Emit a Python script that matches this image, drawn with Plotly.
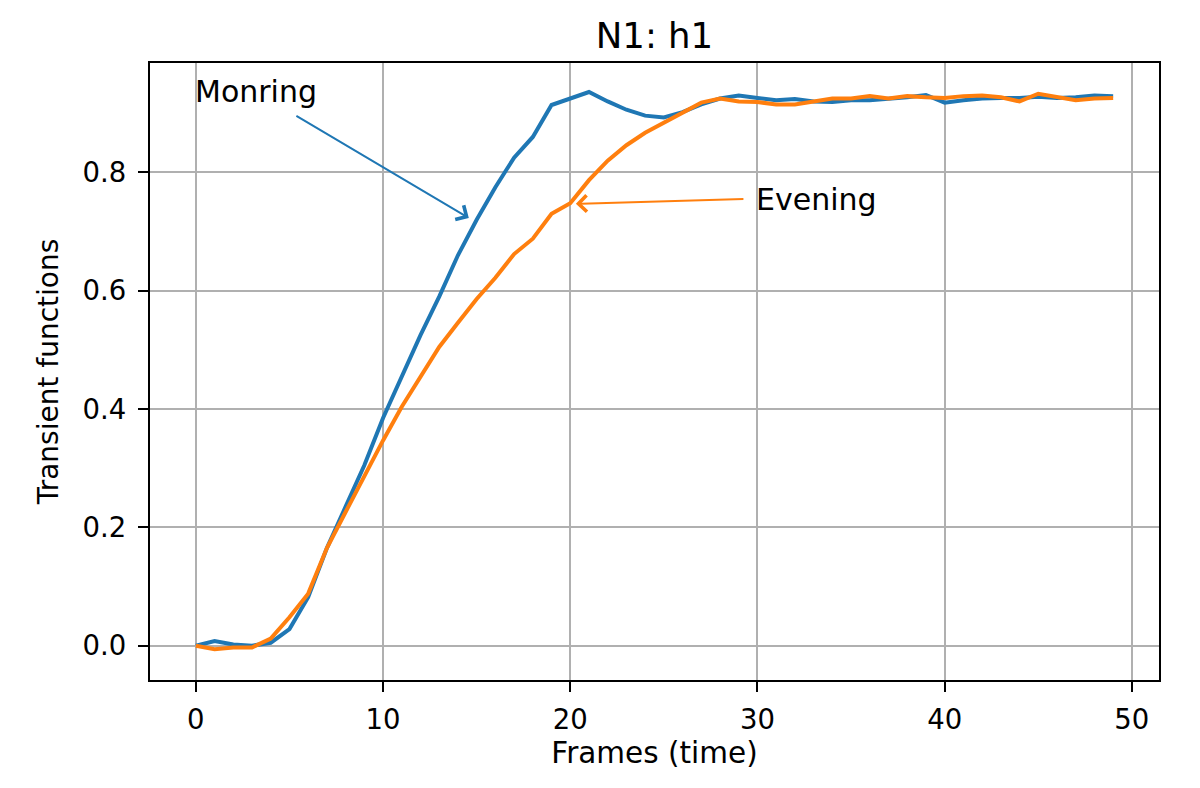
import plotly.graph_objects as go

frames = list(range(50))

morning = [0.000, 0.008, 0.002, 0.000, 0.005, 0.028, 0.082, 0.165, 0.235, 0.305,
           0.385, 0.455, 0.525, 0.590, 0.660, 0.720, 0.775, 0.825, 0.860, 0.914,
           0.925, 0.936, 0.920, 0.906, 0.896, 0.893, 0.902, 0.915, 0.925, 0.930,
           0.926, 0.922, 0.924, 0.920, 0.919, 0.922, 0.922, 0.924, 0.927, 0.931,
           0.918, 0.922, 0.925, 0.926, 0.926, 0.928, 0.926, 0.927, 0.930, 0.929]

evening = [0.000, -0.006, -0.003, -0.003, 0.012, 0.048, 0.088, 0.165, 0.226, 0.287,
           0.347, 0.404, 0.455, 0.505, 0.546, 0.586, 0.622, 0.662, 0.688, 0.730,
           0.748, 0.787, 0.820, 0.846, 0.867, 0.884, 0.900, 0.918, 0.925, 0.920,
           0.919, 0.915, 0.915, 0.920, 0.925, 0.925, 0.929, 0.925, 0.929, 0.927,
           0.926, 0.929, 0.930, 0.927, 0.920, 0.933, 0.927, 0.922, 0.925, 0.926]

x_ticks = [0, 10, 20, 30, 40, 50]
y_ticks = [0.0, 0.2, 0.4, 0.6, 0.8]
y_tick_text = ["0.0", "0.2", "0.4", "0.6", "0.8"]

BLUE = "#1f77b4"
ORANGE = "#ff7f0e"
FONT = "DejaVu Sans"

fig = go.Figure()
fig.add_trace(go.Scatter(x=frames, y=morning, mode="lines", name="Morning",
                         line=dict(color=BLUE, width=4)))
fig.add_trace(go.Scatter(x=frames, y=evening, mode="lines", name="Evening",
                         line=dict(color=ORANGE, width=4)))

# arrows (annotation arrows, from text location to the curve)
fig.add_annotation(x=14.58, y=0.723, ax=5.29, ay=0.897, xref="x", yref="y",
                   axref="x", ayref="y", text="", showarrow=True,
                   arrowhead=4, arrowsize=1.6, arrowwidth=2, arrowcolor=BLUE,
                   standoff=0, startstandoff=0)
fig.add_annotation(x=20.3, y=0.747, ax=29.33, ay=0.755, xref="x", yref="y",
                   axref="x", ayref="y", text="", showarrow=True,
                   arrowhead=4, arrowsize=1.6, arrowwidth=2, arrowcolor=ORANGE,
                   standoff=0, startstandoff=0)

fig.add_annotation(x=0, y=0.936, xref="x", yref="y", text="Monring",
                   showarrow=False, xanchor="left", yanchor="middle", xshift=-3,
                   font=dict(family=FONT, size=30, color="black"))
fig.add_annotation(x=30, y=0.755, xref="x", yref="y", text="Evening",
                   showarrow=False, xanchor="left", yanchor="middle", xshift=-3,
                   font=dict(family=FONT, size=30, color="black"))

axis_common = dict(
    showgrid=True, gridcolor="#b0b0b0", gridwidth=2.3,
    showline=True, linecolor="black", linewidth=2.3, mirror=True,
    ticks="outside", ticklen=10, tickwidth=2.3, tickcolor="black",
    zeroline=False,
    tickfont=dict(family=FONT, size=27.5, color="black"),
)

fig.update_layout(
    width=1200, height=788,
    margin=dict(l=150, r=41, t=63, b=108),
    paper_bgcolor="white", plot_bgcolor="white",
    showlegend=False,
    title=dict(text="N1: h1", x=0.5454, xanchor="center", y=0.955, yanchor="middle",
               font=dict(family=FONT, size=35.5, color="black")),
    xaxis=dict(range=[-2.45, 51.45], tickvals=x_ticks,
               title=dict(text="Frames (time)", standoff=8,
                          font=dict(family=FONT, size=29.5, color="black")),
               ticklabelstandoff=4,
               **axis_common),
    yaxis=dict(range=[-0.058, 0.985], tickvals=y_ticks, ticktext=y_tick_text,
               title=dict(text="Transient functions", standoff=16,
                          font=dict(family=FONT, size=28, color="black")),
               ticklabelstandoff=6,
               **axis_common),
)

fig.write_html("out.html")
